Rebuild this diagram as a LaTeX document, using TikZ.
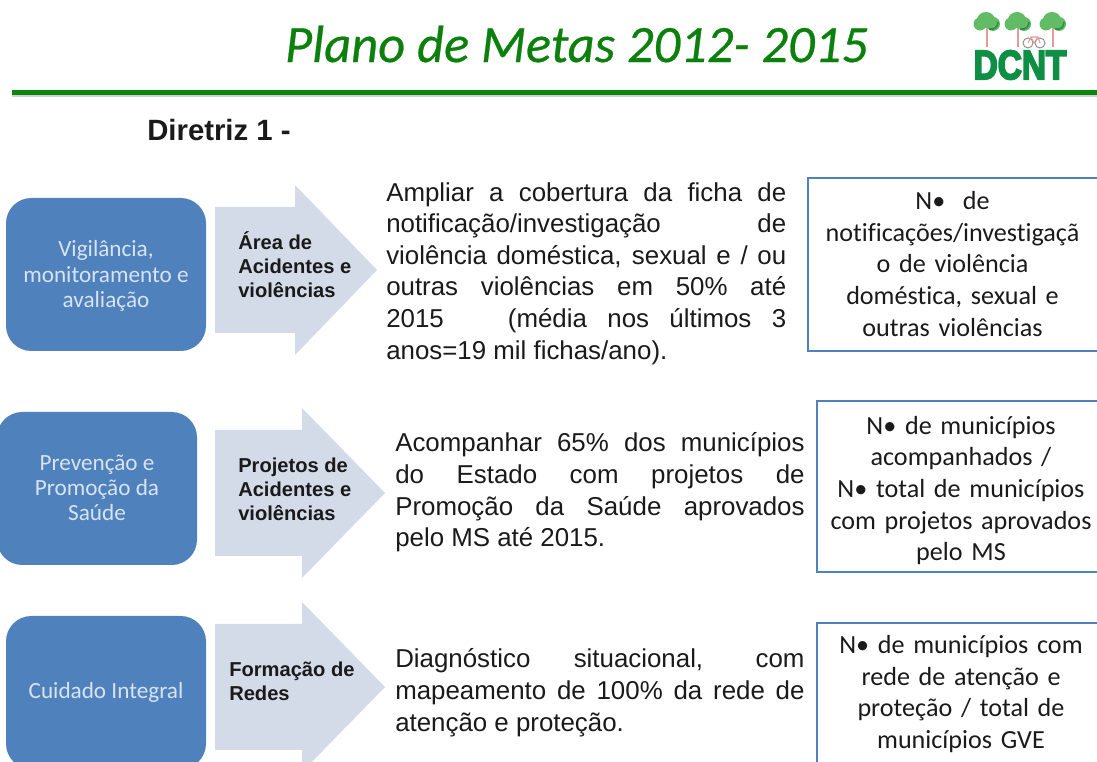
\documentclass[tikz,border=0pt]{standalone}
\usepackage{fontspec}
\setmainfont{Liberation Sans}
\newfontfamily\calfont[Ligatures=NoCommon]{Carlito}
\newfontfamily\titlefont[ItalicFeatures={FakeBold=0.5}]{Carlito}
\newfontfamily\logofont[BoldFeatures={FakeBold=5}]{Liberation Sans}
\usetikzlibrary{calc}
\definecolor{bluebox}{HTML}{4F81BD}
\definecolor{arrowfill}{HTML}{D3DBE9}
\definecolor{titlegreen}{HTML}{0C800C}
\definecolor{rulegreen}{HTML}{0A860A}
\definecolor{leafgreen}{HTML}{62BC66}
\definecolor{leafdark}{HTML}{2F8F45}
\definecolor{logogreen}{HTML}{0E8F45}
\definecolor{trunkred}{HTML}{E69A9A}
\definecolor{txt}{HTML}{1A1A1A}
\tikzset{
  x=0.75pt,y=-0.75pt,
  stepbox/.style={fill=bluebox,draw=none,rounded corners=19pt},
  steplabel/.style={font=\calfont\fontsize{17.4pt}{19pt}\selectfont,text=white!78!bluebox,align=center,inner sep=0pt},
  bigarrow/.style={fill=arrowfill,draw=none},
  arrowlabel/.style={font=\bfseries\fontsize{15.1pt}{18pt}\selectfont,text=txt,align=left,anchor=west,inner sep=0pt},
  goaltext/.style={font=\fontsize{19.4pt}{23.7pt}\selectfont,text=txt,align=justify,anchor=north west,inner sep=0pt,text width=300pt},
  metricbox/.style={draw=bluebox,line width=1.8pt,fill=white},
  metrictext/.style={font=\calfont\fontsize{19.6pt}{23.7pt}\selectfont,text=txt,align=center,inner sep=0pt},
  leaf/.style={fill=leafgreen,draw=none},
  leafshade/.style={draw=leafdark,line width=1.2pt},
  trunk/.style={draw=trunkred,line width=1.4pt},
}
\newcommand{\Arrow}[3]{%
  \fill[bigarrow] (215,#1-63) -- (#2,#1-63) -- (#2,#1-85) -- (#3,#1) -- (#2,#1+85) -- (#2,#1+63) -- (215,#1+63) -- cycle;}
\begin{document}
\begin{tikzpicture}
\useasboundingbox (0,0) rectangle (1097,762);
\clip (0,0) rectangle (1097,762);
\fill[white] (0,0) rectangle (1097,762);
% title
\node[font=\titlefont\itshape\fontsize{39.4pt}{44pt}\selectfont,text=titlegreen,inner sep=0pt] (title) at (576.5,44) {Plano de Metas 2012- 2015};
% rule
\fill[black!18] (12,94) rectangle (1097,97);
\fill[rulegreen] (12,90.5) rectangle (1097,95);
% logo
\foreach \cx in {987,1018,1053}{
  \draw[trunk] (\cx,28) -- (\cx,47);
  \fill[leaf] (\cx-1,20) ellipse [x radius=9,y radius=8];
  \fill[leaf] (\cx-7,24) circle (6.5);
  \fill[leaf] (\cx+6,24) circle (7);
  \draw[leafshade] (\cx+2,29) .. controls (\cx+8,30) and (\cx+11,27) .. (\cx+11,22);
}
\draw[black!45,line width=0.7pt] (1028,43) circle (5) (1040,43) circle (5);
\draw[trunkred,line width=0.8pt] (1028,43) -- (1031,37) -- (1038,37) -- (1040,43) (1031,37) -- (1034,43) -- (1038,37);
\node[font=\logofont\bfseries\fontsize{25pt}{25pt}\selectfont,text=logogreen,inner sep=0pt,yscale=1.22] (logo) at (1020,65) {DCNT};
% heading
\node[font=\bfseries\fontsize{22pt}{24pt}\selectfont,text=txt,inner sep=0pt,anchor=west] (head) at (147,130) {Diretriz 1 -};
% row 1
\fill[stepbox] (6,198) rectangle (206,351);
\node[steplabel] (s1) at (106,276) {Vigilância,\\monitoramento e\\avaliação};
\Arrow{270}{295}{377}
\node[arrowlabel] (a1) at (238,265) {Área de\\Acidentes e\\violências};
\node[goaltext] (g1) at (386,182) {Ampliar a cobertura da ficha de\linebreak notificação/investigação de\linebreak violência doméstica, sexual e / ou\linebreak outras violências em 50\% até\linebreak 2015 \hspace{0.9em} (média nos últimos 3\linebreak anos=19 mil fichas/ano).};
\filldraw[metricbox] (808,178) rectangle (1110,351);
\node[metrictext,text width=258pt] (m1) at (952.5,264) {N\textbullet{} \ de\\notificações/investigaçã\\o de violência\\doméstica, sexual e\\outras violências};
% row 2
\fill[stepbox] (-3,412) rectangle (197,565);
\node[steplabel] (s2) at (97,488) {Prevenção e\\Promoção da\\Saúde};
\Arrow{493}{302}{385}
\node[arrowlabel] (a2) at (238,489) {Projetos de\\Acidentes e\\violências};
\node[goaltext,text width=307pt] (g2) at (395,432.5) {Acompanhar 65\% dos municípios\linebreak do Estado com projetos de\linebreak Promoção da Saúde aprovados\linebreak pelo MS até 2015.};
\filldraw[metricbox] (817,401) rectangle (1110,572);
\node[metrictext,text width=258pt] (m2) at (961,490.5) {N\textbullet{} de municípios\\acompanhados /\\N\textbullet{} total de municípios\\com projetos aprovados\\pelo MS};
% row 3
\fill[stepbox] (6,616) rectangle (206,769);
\node[steplabel] (s3) at (106,692) {Cuidado Integral};
\Arrow{687}{302}{385}
\node[arrowlabel] (a3) at (229,681) {Formação de\\Redes};
\node[goaltext,text width=307pt] (g3) at (395,648.5) {Diagnóstico situacional, com\linebreak mapeamento de 100\% da rede de\linebreak atenção e proteção.};
\filldraw[metricbox] (817,623) rectangle (1110,775);
\node[metrictext,text width=258pt] (m3) at (961,694) {N\textbullet{} de municípios com\\rede de atenção e\\proteção / total de\\municípios GVE};
\end{tikzpicture}
\end{document}
